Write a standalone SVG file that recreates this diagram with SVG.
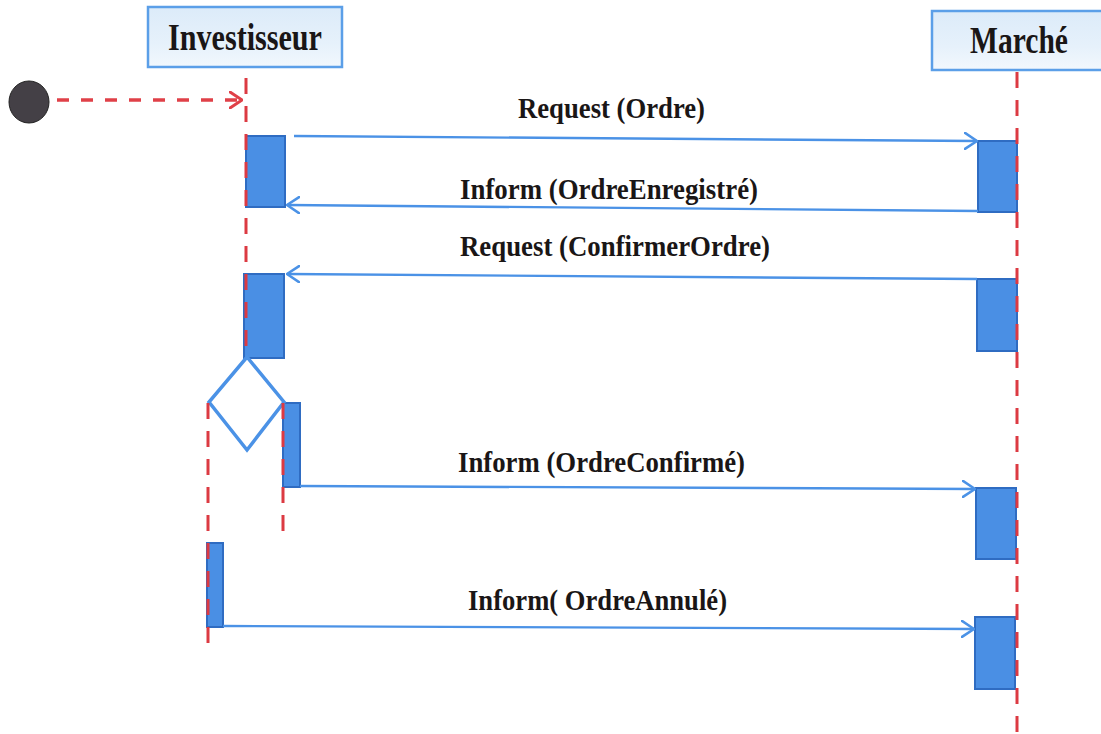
<svg xmlns="http://www.w3.org/2000/svg" width="1101" height="734" viewBox="0 0 1101 734">
  <defs>
    <linearGradient id="boxFill" x1="0" y1="0" x2="0" y2="1">
      <stop offset="0" stop-color="#dcebf9"/>
      <stop offset="0.6" stop-color="#e6f1fb"/>
      <stop offset="1" stop-color="#f2f8fd"/>
    </linearGradient>
    <marker id="openBlue" viewBox="0 0 14 18" refX="13" refY="9" markerWidth="14" markerHeight="18" markerUnits="userSpaceOnUse" orient="auto">
      <path d="M1,1 L13,9 L1,17" fill="none" stroke="#4b92e6" stroke-width="2.6" stroke-linecap="round" stroke-linejoin="round"/>
    </marker>
    <marker id="openRed" viewBox="0 0 14 18" refX="13" refY="9" markerWidth="14" markerHeight="18" markerUnits="userSpaceOnUse" orient="auto">
      <path d="M1,1 L13,9 L1,17" fill="none" stroke="#e04048" stroke-width="3" stroke-linecap="round" stroke-linejoin="round"/>
    </marker>
  </defs>
  <style>
    .head { fill: url(#boxFill); stroke: #5b9fe8; stroke-width: 2.5; }
    .headText { font-family: "Liberation Serif", "Times New Roman", serif; font-weight: bold; font-size: 37px; fill: #1a1616; }
    .life { stroke: #dc3a42; stroke-width: 3; stroke-dasharray: 16 12; fill: none; }
    .act { fill: #4a8fe4; stroke: #2f6cc2; stroke-width: 2; }
    .msg { stroke: #4b92e6; stroke-width: 2.4; fill: none; marker-end: url(#openBlue); }
    .label { font-family: "Liberation Serif", "Times New Roman", serif; font-weight: bold; font-size: 30px; fill: #1a1616; }
    .choice { fill: none; stroke: #4b92e6; stroke-width: 3.5; stroke-linejoin: miter; }
  </style>

  <!-- Lifeline heads -->
  <g id="investisseur">
    <rect class="head" x="148" y="7" width="194" height="60"/>
    <text class="headText" x="168" y="50" textLength="154" lengthAdjust="spacingAndGlyphs">Investisseur</text>
  </g>
  <g id="marche">
    <rect class="head" x="932" y="11" width="180" height="59"/>
    <text class="headText" x="970" y="53" textLength="98" lengthAdjust="spacingAndGlyphs">Marché</text>
  </g>

  <!-- Initial state -->
  <g id="start">
    <ellipse cx="29" cy="102" rx="20" ry="21" fill="#444046" stroke="#222" stroke-width="1"/>
  </g>

  <!-- Activation bars -->
  <g id="activations">
    <rect class="act" x="246" y="136" width="39" height="71"/>
    <rect class="act" x="244" y="274" width="40" height="84"/>
    <rect class="act" x="283" y="403" width="17" height="84"/>
    <rect class="act" x="207" y="543" width="16" height="84"/>
    <rect class="act" x="978" y="141" width="39" height="71"/>
    <rect class="act" x="977" y="279" width="40" height="72"/>
    <rect class="act" x="976" y="488" width="40" height="71"/>
    <rect class="act" x="975" y="617" width="40" height="72"/>
  </g>

  <!-- Choice diamond -->
  <g id="choice">
    <polygon class="choice" points="247,357 284,402 247,450 209,402"/>
  </g>

  <!-- Connectors: lifelines and messages -->
  <g id="connectors">
    <line class="life" x1="246" y1="78" x2="246" y2="357"/>
    <line class="life" x1="208" y1="403" x2="208" y2="652"/>
    <line class="life" x1="283" y1="403" x2="283" y2="534"/>
    <line class="life" x1="1017" y1="72" x2="1017" y2="734"/>

    <line x1="57" y1="100" x2="242" y2="100" stroke="#e04048" stroke-width="3.5" stroke-dasharray="12 12" marker-end="url(#openRed)"/>

    <line class="msg" x1="294" y1="136" x2="977" y2="141"/>
    <line class="msg" x1="978" y1="211" x2="287" y2="205"/>
    <line class="msg" x1="977" y1="279" x2="287" y2="274"/>
    <line class="msg" x1="300" y1="486" x2="975" y2="489"/>
    <line class="msg" x1="223" y1="626" x2="974" y2="629"/>
  </g>

  <!-- Message labels -->
  <g id="labels">
    <text class="label" x="518" y="118" textLength="187" lengthAdjust="spacingAndGlyphs">Request (Ordre)</text>
    <text class="label" x="460" y="199" textLength="298" lengthAdjust="spacingAndGlyphs">Inform (OrdreEnregistré)</text>
    <text class="label" x="460" y="256" textLength="310" lengthAdjust="spacingAndGlyphs">Request (ConfirmerOrdre)</text>
    <text class="label" x="458" y="472" textLength="287" lengthAdjust="spacingAndGlyphs">Inform (OrdreConfirmé)</text>
    <text class="label" x="468" y="610" textLength="259" lengthAdjust="spacingAndGlyphs">Inform( OrdreAnnulé)</text>
  </g>
</svg>
